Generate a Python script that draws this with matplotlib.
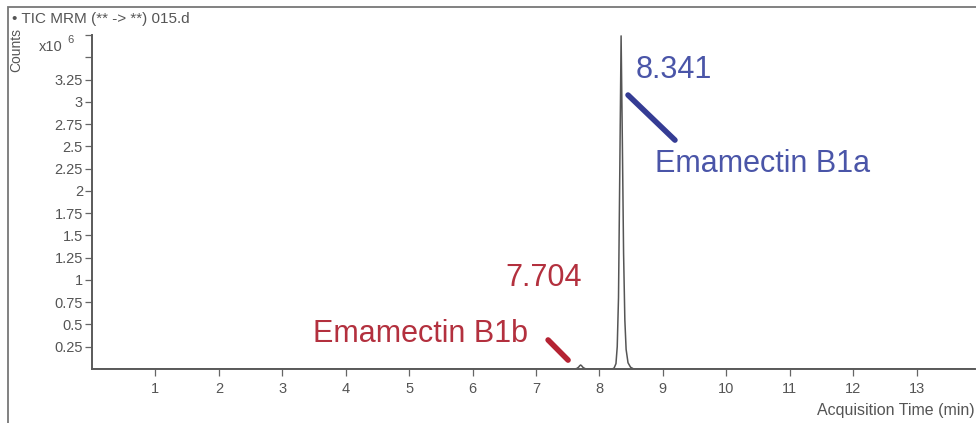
import matplotlib
matplotlib.use("Agg")
import matplotlib.pyplot as plt
from matplotlib.patches import Rectangle

# Chromatogram trace (time in min, intensity in x10^6 counts)
times = [0.0, 7.60, 7.64, 7.67, 7.69, 7.704, 7.72, 7.74, 7.77, 7.80,
         8.20, 8.23, 8.26, 8.28, 8.30, 8.32, 8.341, 8.36, 8.38, 8.40,
         8.42, 8.45, 8.49, 8.54, 13.95]
counts = [0.0, 0.0, 0.005, 0.02, 0.038, 0.045, 0.035, 0.018, 0.005, 0.0,
          0.0, 0.01, 0.06, 0.25, 0.8, 2.2, 3.74, 2.6, 1.3, 0.55,
          0.22, 0.07, 0.02, 0.0, 0.0]

x_ticks = [1, 2, 3, 4, 5, 6, 7, 8, 9, 10, 11, 12, 13]
y_ticks = [0.25, 0.5, 0.75, 1, 1.25, 1.5, 1.75, 2, 2.25, 2.5, 2.75, 3, 3.25, 3.5, 3.75]
y_tick_labels = ["0.25", "0.5", "0.75", "1", "1.25", "1.5", "1.75", "2", "2.25",
                 "2.5", "2.75", "3", "3.25", "", ""]

peak_rt_a = "8.341"
peak_rt_b = "7.704"
name_a = "Emamectin B1a"
name_b = "Emamectin B1b"

title = "\u2022 TIC MRM (** -> **) 015.d"
xlabel = "Acquisition Time (min)"
ylabel = "Counts"

W, H = 976, 423
fig = plt.figure(figsize=(W / 100, H / 100), dpi=100)
fig.patch.set_facecolor("white")

# outer frame
fig.add_artist(Rectangle((8 / W, -0.05), 1.2, 1 - 7 / H + 0.05, transform=fig.transFigure,
                         fill=False, edgecolor="#777777", linewidth=1.3))

ax = fig.add_axes([92 / W, 1 - 369 / H, (975 - 92) / W, (369 - 35) / H])
ax.plot(times, counts, color="#555555", linewidth=1.1)
ax.set_xlim(0, 13.92)
ax.set_ylim(0, 3.75)

for s in ["top", "right"]:
    ax.spines[s].set_visible(False)
for s in ["left", "bottom"]:
    ax.spines[s].set_color("#5a5a5a")
    ax.spines[s].set_linewidth(1.4)

ax.set_xticks(x_ticks)
ax.set_xticklabels([str(v) for v in x_ticks])
ax.set_yticks(y_ticks)
ax.set_yticklabels(y_tick_labels)
ax.tick_params(axis="both", direction="out", length=5, width=0.9, color="#666666",
               labelcolor="#555555", labelsize=10.5, pad=1.5)
ax.tick_params(axis="x", pad=4)
for lbl in ax.get_xticklabels() + ax.get_yticklabels():
    lbl.set_family("Liberation Sans")

txt_kw = dict(family="Liberation Sans", color="#555555")
fig.text(12 / W, 1 - 19 / H, title, fontsize=11, va="center", ha="left", **txt_kw)
fig.text(16 / W, 1 - 50 / H, ylabel, fontsize=10, rotation=90, va="center", ha="center", **txt_kw)
fig.text(39 / W, 1 - 47 / H, "x10", fontsize=10.5, va="center", ha="left", **txt_kw)
fig.text(67 / W, 1 - 40 / H, "6", fontsize=8, va="center", ha="left", **txt_kw)
fig.text(975 / W, 1 - 410 / H, xlabel, fontsize=11.5, va="center", ha="right", **txt_kw)

blue_txt = "#4a55a8"
blue_line = "#353c94"
red_txt = "#b3303e"
red_line = "#b52333"

ann_kw = dict(fontsize=22, family="Liberation Sans", ha="left", va="baseline")
ax.text(8.576, 3.27, peak_rt_a, color=blue_txt, **ann_kw)
ax.text(8.876, 2.21, name_a, color=blue_txt, **ann_kw)
ax.plot([8.45, 9.19], [3.076, 2.57], color=blue_line, linewidth=4, solid_capstyle="round")

ax.text(6.51, 0.93, peak_rt_b, color=red_txt, **ann_kw)
ax.text(3.485, 0.30, name_b, color=red_txt, **ann_kw)
ax.plot([7.19, 7.505], [0.326, 0.10], color=red_line, linewidth=4, solid_capstyle="round")

fig.savefig("out.png", dpi=100, facecolor="white")
